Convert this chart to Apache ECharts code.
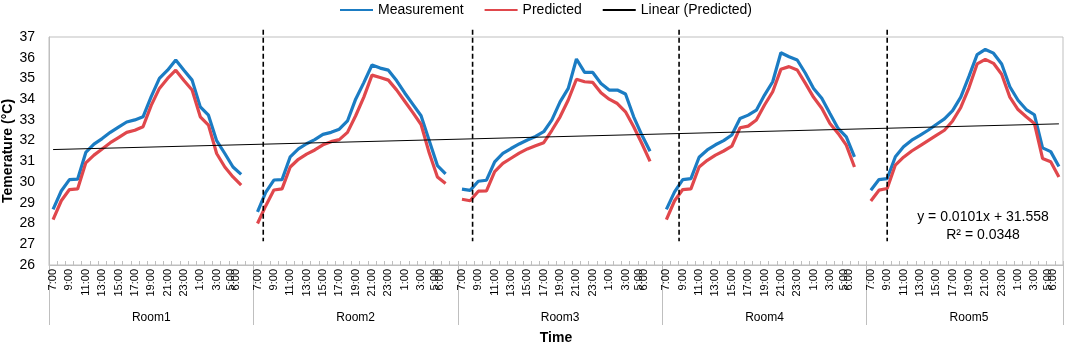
<!DOCTYPE html>
<html>
<head>
<meta charset="UTF-8">
<title>Measurement vs Predicted</title>
<script src="https://cdn.jsdelivr.net/npm/echarts@6/dist/echarts.min.js"></script>
<style>html,body{margin:0;padding:0;background:#fff;}</style>
</head>
<body>
<div id="main" style="width:1065px;height:343px;"></div>
<script type="text/javascript">
// data
var rooms = ['Room1', 'Room2', 'Room3', 'Room4', 'Room5'];
var hours = ['7:00', '8:00', '9:00', '10:00', '11:00', '12:00', '13:00', '14:00', '15:00', '16:00',
  '17:00', '18:00', '19:00', '20:00', '21:00', '22:00', '23:00', '0:00', '1:00', '2:00', '3:00', '4:00', '5:00', '6:00'];

var measRoom1 = [28.68, 29.57, 30.12, 30.14, 31.43, 31.83, 32.1, 32.4, 32.65, 32.9, 33.0, 33.15, 34.12, 35.0, 35.4, 35.89, 35.4, 34.92, 33.63, 33.23, 32.0, 31.38, 30.73, 30.37];
var measRoom2 = [28.56, 29.5, 30.1, 30.12, 31.22, 31.6, 31.85, 32.05, 32.3, 32.4, 32.55, 32.95, 34.0, 34.8, 35.65, 35.5, 35.4, 34.9, 34.3, 33.75, 33.2, 32.0, 30.8, 30.4];
var measRoom3 = [29.66, 29.6, 30.04, 30.09, 30.98, 31.38, 31.62, 31.84, 32.03, 32.2, 32.43, 33.0, 33.87, 34.52, 35.94, 35.29, 35.29, 34.76, 34.44, 34.44, 34.25, 33.15, 32.27, 31.49];
var measRoom4 = [28.68, 29.53, 30.12, 30.17, 31.2, 31.55, 31.8, 32.0, 32.27, 33.07, 33.23, 33.47, 34.2, 34.84, 36.24, 36.05, 35.89, 35.25, 34.52, 34.04, 33.31, 32.59, 32.18, 31.22];
var measRoom5 = [29.61, 30.12, 30.17, 31.22, 31.7, 32.02, 32.25, 32.5, 32.78, 33.05, 33.45, 34.1, 35.1, 36.15, 36.4, 36.22, 35.7, 34.6, 33.95, 33.5, 33.25, 31.65, 31.47, 30.75];

var predRoom1 = [28.19, 29.1, 29.64, 29.67, 30.93, 31.3, 31.6, 31.9, 32.15, 32.4, 32.5, 32.67, 33.7, 34.52, 35.0, 35.4, 34.9, 34.44, 33.15, 32.75, 31.38, 30.73, 30.25, 29.85];
var predRoom2 = [28.0, 28.85, 29.62, 29.67, 30.73, 31.1, 31.35, 31.55, 31.8, 31.95, 32.05, 32.4, 33.2, 34.1, 35.16, 35.05, 34.92, 34.45, 33.9, 33.35, 32.78, 31.4, 30.25, 29.93];
var predRoom3 = [29.17, 29.1, 29.56, 29.58, 30.5, 30.9, 31.15, 31.4, 31.6, 31.75, 31.9, 32.5, 33.15, 33.96, 34.96, 34.84, 34.81, 34.31, 34.0, 33.79, 33.39, 32.67, 31.86, 31.0];
var predRoom4 = [28.19, 29.1, 29.64, 29.67, 30.73, 31.05, 31.3, 31.5, 31.73, 32.62, 32.7, 33.0, 33.72, 34.36, 35.44, 35.57, 35.41, 34.76, 34.09, 33.56, 32.83, 32.35, 31.78, 30.73];
var predRoom5 = [29.09, 29.61, 29.69, 30.82, 31.2, 31.5, 31.75, 32.0, 32.25, 32.5, 32.95, 33.6, 34.55, 35.7, 35.92, 35.73, 35.2, 34.1, 33.5, 33.15, 32.83, 31.14, 30.98, 30.25];

// linear trend of Predicted: y = 0.0101x + 31.558, first and last point
var trendStart = 31.57;
var trendEnd = 32.81;

// dashed dividers (position along the category scale, 0..124) and their extent
var dividerX = [26.2, 51.8, 77.05, 102.5];
var dividerTop = 37.35;
var dividerBottom = 27.15;

var yTicks = { min: 26, max: 37, step: 1 };

var measured = [measRoom1, measRoom2, measRoom3, measRoom4, measRoom5];
var predicted = [predRoom1, predRoom2, predRoom3, predRoom4, predRoom5];

// build the flat category axis, rooms 1-4 keep an empty slot at the end
var cats = [], blue = [], red = [], roomStart = [], roomMid = [];
rooms.forEach(function (r, k) {
  roomStart.push(cats.length);
  roomMid.push(cats.length + 12);
  hours.forEach(function (h, i) {
    cats.push(r + '|' + h);
    blue.push(measured[k][i]);
    red.push(predicted[k][i]);
  });
  if (k < rooms.length - 1) {
    cats.push(r + '|');
    blue.push(null);
    red.push(null);
  }
});
var trend = cats.map(function () { return null; });
trend[0] = trendStart;
trend[cats.length - 1] = trendEnd;

var font = 'Liberation Sans';
var grey = '#bfbfbf';

var myChart = echarts.init(document.getElementById('main'));

var dividerSeries = dividerX.map(function (x) {
  return {
    name: 'divider',
    type: 'line',
    xAxisIndex: 2,
    data: [[x, dividerTop], [x, dividerBottom]],
    symbol: 'none',
    clip: false,
    silent: true,
    lineStyle: { color: '#000', width: 1.6, type: [5, 3] },
    z: 5
  };
});

var option = {
  animation: false,
  textStyle: { fontFamily: font },
  legend: {
    data: ['Measurement', 'Predicted', 'Linear (Predicted)'],
    left: 334,
    top: -2,
    itemWidth: 33,
    itemHeight: 14,
    itemGap: 20,
    itemStyle: { opacity: 0 },
    textStyle: { fontSize: 14, color: '#000', fontFamily: font }
  },
  grid: {
    left: 49,
    right: 2,
    top: 37,
    bottom: 78,
    outerBoundsMode: 'none',
    containLabel: false,
    show: true,
    borderColor: grey,
    borderWidth: 1
  },
  xAxis: [
    {
      type: 'category',
      data: cats,
      axisLine: { lineStyle: { color: grey } },
      axisTick: { show: true, inside: true, length: 4, interval: 0, lineStyle: { color: grey } },
      axisLabel: {
        interval: 0,
        rotate: 90,
        margin: 4,
        fontSize: 11,
        lineHeight: 5,
        color: '#000',
        formatter: function (v) {
          var i = hours.indexOf(v.split('|')[1]);
          if (i === 22) return hours[22] + '\n' + hours[23];
          if (i >= 0 && i < 22 && i % 2 === 0) return hours[i];
          return '';
        }
      },
      splitLine: { show: false }
    },
    {
      type: 'category',
      data: cats,
      position: 'bottom',
      axisLine: { show: false },
      axisTick: {
        show: true,
        length: 60,
        interval: function (idx) { return roomStart.indexOf(idx) >= 0; },
        lineStyle: { color: grey }
      },
      axisLabel: {
        margin: 47,
        fontSize: 12,
        color: '#000',
        interval: function (idx) { return roomMid.indexOf(idx) >= 0; },
        formatter: function (v) { return v.split('|')[0]; }
      },
      name: 'Time',
      nameLocation: 'middle',
      nameGap: 66,
      nameMoveOverlap: false,
      nameTextStyle: { fontSize: 14, fontWeight: 'bold', color: '#000', fontFamily: font },
      splitLine: { show: false }
    },
    {
      type: 'value',
      min: 0,
      max: cats.length,
      show: false
    }
  ],
  yAxis: {
    type: 'value',
    min: yTicks.min,
    max: yTicks.max,
    interval: yTicks.step,
    name: 'Temerature (°C)',
    nameLocation: 'middle',
    nameGap: 34,
    nameMoveOverlap: false,
    nameTextStyle: { fontSize: 14, fontWeight: 'bold', color: '#000', fontFamily: font },
    axisLine: { show: true, lineStyle: { color: grey } },
    axisTick: { show: false },
    axisLabel: { fontSize: 14, color: '#000', margin: 14 },
    splitLine: { show: false }
  },
  series: [
    {
      name: 'Measurement',
      type: 'line',
      data: blue,
      symbol: 'none',
      lineStyle: { color: '#1b7cc3', width: 3.2 },
      itemStyle: { color: '#1b7cc3' },
      z: 2
    },
    {
      name: 'Predicted',
      type: 'line',
      data: red,
      symbol: 'none',
      lineStyle: { color: '#e0474c', width: 3.2 },
      itemStyle: { color: '#e0474c' },
      z: 3
    },
    {
      name: 'Linear (Predicted)',
      type: 'line',
      data: trend,
      connectNulls: true,
      symbol: 'none',
      lineStyle: { color: '#000', width: 1 },
      itemStyle: { color: '#000' },
      z: 4
    }
  ].concat(dividerSeries),
  graphic: [
    {
      type: 'text',
      x: 983,
      y: 226,
      style: {
        text: 'y = 0.0101x + 31.558\nR² = 0.0348',
        align: 'center',
        verticalAlign: 'middle',
        lineHeight: 18,
        fontSize: 14,
        fontFamily: font,
        fill: '#000'
      }
    }
  ]
};

myChart.setOption(option);
</script>
</body>
</html>
